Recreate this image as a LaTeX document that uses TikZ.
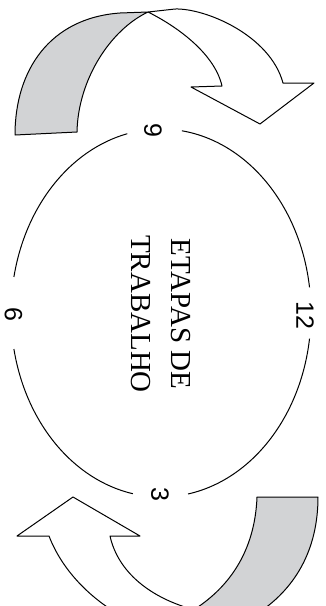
\documentclass[tikz,border=0pt]{standalone}
\usepackage{fontspec}
\setmainfont{Liberation Serif}
\newfontfamily\numfont{Liberation Sans}
\usepackage{tikz}
\definecolor{ribbongray}{RGB}{210,211,213}

\begin{document}
\begin{tikzpicture} [x = 1pt, y = -1pt, line width = 1pt, line join = round,
    num/.style = {rotate = -90, font = \numfont\fontsize{25}{25}\selectfont, inner sep = 0pt},
    back/.style = {draw, fill = ribbongray},
    front/.style = {draw, fill = white}]
  \useasboundingbox (0,0) rectangle (325,606);
  \coordinate (c) at (161,313);
  % clock face, broken at the four numbers
  \draw (c) ++(8:150 and 184) arc [start angle = 8, end angle = 79.6, x radius = 150, y radius = 184];
  \draw (c) ++(100.8:150 and 184) arc [start angle = 100.8, end angle = 168.7, x radius = 150, y radius = 184];
  \draw (c) ++(191.3:150 and 184) arc [start angle = 191.3, end angle = 257, x radius = 150, y radius = 184];
  \draw (c) ++(278:150 and 184) arc [start angle = 278, end angle = 352, x radius = 150, y radius = 184];
  \node[num] (n12) at (305,315) {12};
  \node[num] (n3) at (160,494) {3};
  \node[num] (n6) at (13.5,314) {6};
  \node[num] (n9) at (153,130) {9};
  \node[rotate = -90, align = center, font = \fontsize{29}{40}\selectfont] (title) at (161,314) {ETAPAS DE\\TRABALHO};
  % upper arrow
  \draw[back] (15,135) -- (77,132) .. controls (78,80) and (110,30) .. (148,12)
    -- (120,13) .. controls (50,18) and (15,70) .. cycle;
  \draw[front] (148,12) -- (175,9) .. controls (205,8) and (270,35) .. (283,83)
    -- (314,83) -- (260,124) -- (191,87) -- (222,86) .. controls (215,55) and (180,28) .. cycle;
  % lower arrow, cut by the page edge
  \begin{scope}
    \clip (0,0) rectangle (325,606);
    \draw[back] (257,497) -- (318,497) .. controls (318,550) and (295,590) .. (255,615)
      -- (185,615) .. controls (230,590) and (255,550) .. cycle;
    \draw[front] (73,497) -- (140,536) -- (110,536) .. controls (118,572) and (150,598) .. (195,610)
      -- (195,625) -- (120,625) -- (120,615) .. controls (90,598) and (62,570) .. (49,536)
      -- (17,536) -- cycle;
  \end{scope}
\end{tikzpicture}
\end{document}
